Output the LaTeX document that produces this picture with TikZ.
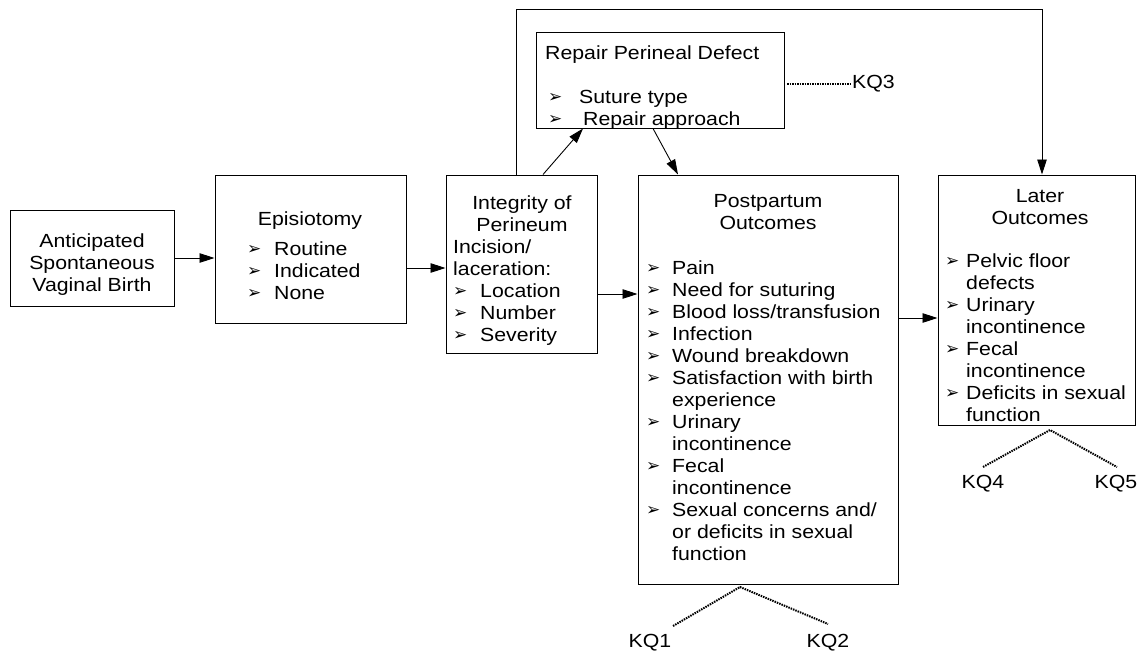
\documentclass[tikz,border=0pt]{standalone}
\usepackage{fontspec}
\setmainfont[FakeStretch=1.12]{Liberation Sans}
\newfontfamily\djv{DejaVu Sans}
\usetikzlibrary{arrows.meta}
\newcommand\bul{\raisebox{0.5pt}{\djv\fontsize{17}{17}\selectfont\char"27A2}}
\newcommand\itm[2]{\makebox[#1pt][l]{\bul}#2}
\newcommand\ind[2]{\hspace*{#1pt}#2}
\newcommand\lst[1]{\begin{tabular}[t]{@{}l@{}}#1\end{tabular}}
\newcommand\clst[1]{\begin{tabular}[t]{@{}c@{}}#1\end{tabular}}
\tikzset{
  box/.style={draw, line width=1pt, inner sep=0pt},
  txt/.style={inner sep=0pt, font=\fontsize{19}{22}\selectfont},
  arr/.style={line width=0.9pt, -{Triangle[length=15pt,width=9.5pt]}},
  dots/.style={line width=2pt, dash pattern=on 1.5pt off 1pt},
}
\begin{document}
\begin{tikzpicture}[x=1pt,y=-1pt]
\useasboundingbox (0,0) rectangle (1140,651);
% boxes
\node[box, minimum width=164pt, minimum height=96pt] (antic) at (92,258) {};
\node[box, minimum width=191pt, minimum height=148pt] (epis) at (310.5,249) {};
\node[box, minimum width=151pt, minimum height=178pt] (integ) at (521.5,264) {};
\node[box, minimum width=248pt, minimum height=96pt] (repair) at (660,80) {};
\node[box, minimum width=260pt, minimum height=409pt] (post) at (768,379.5) {};
\node[box, minimum width=197pt, minimum height=250pt] (later) at (1036.5,300) {};
% texts
\node[txt, anchor=base] (tantic) at (92,247) {\clst{Anticipated\\Spontaneous\\Vaginal Birth}};
\node[txt, anchor=base] (tepis) at (310,225) {Episiotomy};
\node[txt, anchor=base west] (tepisl) at (247,255) {\lst{\itm{27}{Routine}\\\itm{27}{Indicated}\\\itm{27}{None}}};
\node[txt, anchor=base] (tinteg) at (522,209) {\clst{Integrity of\\Perineum}};
\node[txt, anchor=base west] (tintegl) at (453,253) {\lst{Incision/\\laceration:\\\itm{27}{Location}\\\itm{27}{Number}\\\itm{27}{Severity}}};
\node[txt, anchor=base west] (trep) at (545,59) {Repair Perineal Defect};
\node[txt, anchor=base west] (trepl) at (548,103) {\lst{\itm{31}{Suture type}\\\itm{35}{Repair approach}}};
\node[txt, anchor=base] (tpost) at (768,207) {\clst{Postpartum\\Outcomes}};
\node[txt, anchor=base west] (tpostl) at (646,274) {\lst{\itm{26}{Pain}\\\itm{26}{Need for suturing}\\\itm{26}{Blood loss/transfusion}\\\itm{26}{Infection}\\\itm{26}{Wound breakdown}\\\itm{26}{Satisfaction with birth}\\\ind{26}{experience}\\\itm{26}{Urinary}\\\ind{26}{incontinence}\\\itm{26}{Fecal}\\\ind{26}{incontinence}\\\itm{26}{Sexual concerns and/}\\\ind{26}{or deficits in sexual}\\\ind{26}{function}}};
\node[txt, anchor=base] (tlater) at (1040,202) {\clst{Later\\Outcomes}};
\node[txt, anchor=base west] (tlaterl) at (945,267) {\lst{\itm{21}{Pelvic floor}\\\ind{21}{defects}\\\itm{21}{Urinary}\\\ind{21}{incontinence}\\\itm{21}{Fecal}\\\ind{21}{incontinence}\\\itm{21}{Deficits in sexual}\\\ind{21}{function}}};
% KQ labels
\node[txt, anchor=base west] (kq3) at (852,88) {KQ3};
\node[txt, anchor=base] (kq1) at (650,647) {KQ1};
\node[txt, anchor=base] (kq2) at (828,647) {KQ2};
\node[txt, anchor=base] (kq4) at (983,488) {KQ4};
\node[txt, anchor=base] (kq5) at (1116,488) {KQ5};
% coordinates
\coordinate (fbA) at (516,9);
\coordinate (fbB) at (1042,9);
\coordinate (apx1) at (740,587);
\coordinate (end1) at (673,626);
\coordinate (end2) at (828,624);
\coordinate (apx2) at (1050,430);
\coordinate (end4) at (983,467);
\coordinate (end5) at (1117,467);
% connectors
\draw[arr] (antic.east) -- (epis.west |- antic.east);
\draw[arr] (epis.east |- 0,268) -- (integ.west |- 0,268);
\draw[arr] (integ.east |- 0,294) -- (post.west |- 0,294);
\draw[arr] (post.east |- 0,318) -- (later.west |- 0,318);
\draw[arr] (integ.north -| 543,0) -- (repair.south -| 583,0);
\draw[arr] (repair.south -| 653,0) -- (post.north -| 678,0);
\draw[arr] (integ.north -| fbA) -- (fbA) -- (fbB) -- (later.north -| fbB);
% dotted
\draw[dots] (787,84) -- (kq3.base west |- 0,84);
\draw[dots] (end1) -- (apx1) -- (end2);
\draw[dots] (end4) -- (apx2) -- (end5);
\end{tikzpicture}
\end{document}
